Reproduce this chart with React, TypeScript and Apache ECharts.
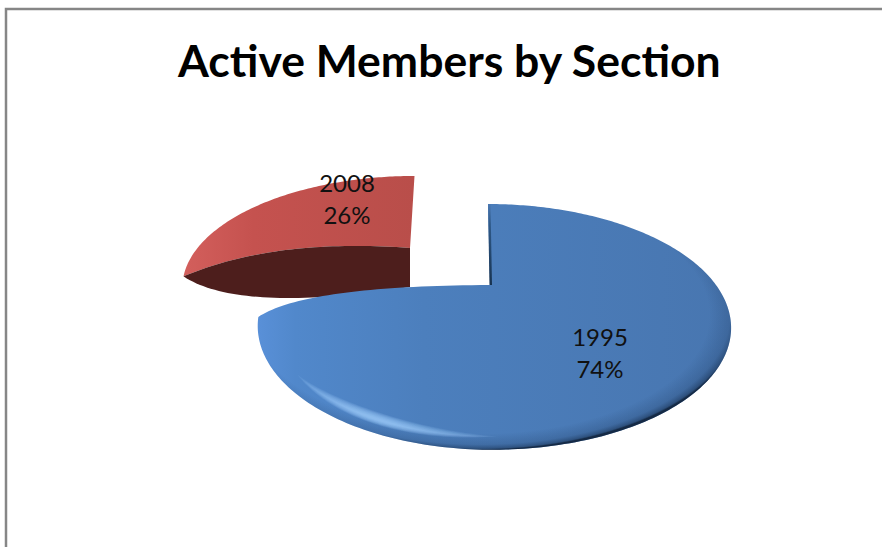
import React, { useEffect, useRef } from "react";
import * as echarts from "echarts";

const chartTitle = "Active Members by Section";
const sections = ["1995", "2008"];
const shares = [74, 26];

const totalShare = shares.reduce((a, b) => a + b, 0);
const labelFont = "Lato, Carlito, sans-serif";

type Point = [number, number];

// Per-slice projection of a tilted disc onto the page. Slices are pulled apart,
// so each one has its own apex and apparent size.
const sliceViews = [
  { ax: 490, ay: 285, fLeft: 219, fRight: 226, g: 108.6, lean: 2, labelDx: 110, labelDy: 67 },
  { ax: 410, ay: 248, fLeft: 212.5, fRight: 212.5, g: 96.6, lean: -4.5, labelDx: -63, labelDy: -50 },
];
const perspective = 0.341;
const wallHeight = 39;

// Angle as seen through the tilted camera; keeps 0 and 360 in place.
const viewAngle = (deg: number) => deg - 16.3 * Math.sin(((deg / 2) * Math.PI) / 180);

function project(view: (typeof sliceViews)[number], deg: number, r = 1): Point {
  const a = (deg * Math.PI) / 180;
  const X = r * Math.sin(a);
  const Y = r * Math.cos(a);
  const w = 1 + perspective * Y;
  const f = X < 0 ? view.fLeft : view.fRight;
  return [view.ax + (f * X) / w - view.lean * Y, view.ay - (view.g * Y) / w];
}

function arcPoints(view: (typeof sliceViews)[number], from: number, to: number, r = 1): Point[] {
  const pts: Point[] = [];
  const steps = Math.max(2, Math.ceil(Math.abs(to - from)));
  for (let i = 0; i <= steps; i++) pts.push(project(view, from + ((to - from) * i) / steps, r));
  return pts;
}

function quadPoints(p0: Point, c: Point, p1: Point, n = 40): Point[] {
  const pts: Point[] = [];
  for (let i = 0; i <= n; i++) {
    const t = i / n;
    const u = 1 - t;
    pts.push([
      u * u * p0[0] + 2 * u * t * c[0] + t * t * p1[0],
      u * u * p0[1] + 2 * u * t * c[1] + t * t * p1[1],
    ]);
  }
  return pts;
}

const linear = (x2: number, y2: number, stops: [number, string][]) =>
  new echarts.graphic.LinearGradient(0, 0, x2, y2, stops.map(([offset, color]) => ({ offset, color })));

const radial = (cx: number, cy: number, r: number, stops: [number, string][]) =>
  new echarts.graphic.RadialGradient(cx, cy, r, stops.map(([offset, color]) => ({ offset, color })));

function renderBlue(start: number, end: number, text: string) {
  const view = sliceViews[0];
  const apex: Point = [view.ax, view.ay];
  const rim = arcPoints(view, viewAngle(start), viewAngle(end));
  const tip = rim[rim.length - 1];
  // the closing radial edge sags in perspective on its way back to the apex
  const closing = quadPoints(tip, [tip[0] + 0.2 * (apex[0] - tip[0]), apex[1] + 1], apex);
  const outline = [...rim, ...closing];
  const corner = rim[0];
  const children: any[] = [
    {
      type: "polygon",
      z2: 10,
      shape: { points: outline },
      style: {
        fill: linear(1, 0, [
          [0, "#5990d8"],
          [0.08, "#5188cb"],
          [0.35, "#4c7fbd"],
          [1, "#4876b0"],
        ]),
      },
    },
    {
      // darkened bevel round the near rim
      type: "polygon",
      z2: 11,
      shape: { points: outline },
      style: {
        fill: radial(0.47, 0.45, 0.55, [
          [0, "rgba(20,45,80,0)"],
          [0.88, "rgba(20,45,80,0)"],
          [0.96, "rgba(20,45,80,0.2)"],
          [0.99, "rgba(18,40,70,0.5)"],
          [1, "rgba(12,28,50,0.85)"],
        ]),
      },
    },
    {
      // thin cut face along the first radial edge
      type: "polygon",
      z2: 12,
      shape: {
        points: [
          [corner[0], corner[1]],
          [corner[0] + 2.5, corner[1]],
          [apex[0] + 2, apex[1]],
          [apex[0] - 0.5, apex[1]],
        ],
      },
      style: {
        fill: linear(0, 1, [
          [0, "#4a78b2"],
          [0.25, "#2f5a8a"],
          [1, "#17324f"],
        ]),
      },
    },
  ];
  // soft glint just inside the near rim: stacked translucent bands with tapered ends
  const bands = 12;
  for (let i = 0; i < bands; i++) {
    const half = 24 - i * 1.6;
    const thick = 0.03 - i * 0.0022;
    const inner: Point[] = [];
    const outer: Point[] = [];
    const steps = 48;
    for (let s = 0; s <= steps; s++) {
      const t = s / steps;
      const deg = 203 - half + 2 * half * t;
      const taper = Math.sin(Math.PI * t);
      inner.push(project(view, deg, 0.945 - thick * taper));
      outer.unshift(project(view, deg, 0.945 + thick * 0.7 * taper));
    }
    children.push({
      type: "polygon",
      z2: 13,
      shape: { points: [...inner, ...outer] },
      style: { fill: "#a8d6ff", opacity: 0.11 },
    });
  }
  children.push(labelText(view, text));
  return { type: "group", children };
}

function renderRed(start: number, end: number, text: string) {
  const view = sliceViews[1];
  const apex: Point = [view.ax, view.ay];
  const rim = arcPoints(view, viewAngle(start), viewAngle(end));
  const left = rim[0];
  const span = apex[0] - left[0];
  // upper edge of the cut face bows upward between apex and rim
  const edge = quadPoints(left, [left[0] + 0.4 * span, apex[1] - 10], apex);
  const wallBottom: Point = [apex[0], apex[1] + wallHeight];
  const lower = quadPoints(left, [left[0] + 0.25 * span, left[1] + wallHeight * 0.95], wallBottom);
  return {
    type: "group",
    children: [
      {
        type: "polygon",
        z2: 1,
        shape: { points: [...rim, ...edge.slice().reverse()] },
        style: {
          fill: linear(1, 0, [
            [0, "#d35f5c"],
            [0.3, "#c5524f"],
            [1, "#b94e4a"],
          ]),
        },
      },
      {
        type: "polygon",
        z2: 2,
        shape: { points: [...edge, ...lower.slice().reverse()] },
        style: { fill: "#4d1e1c" },
      },
      labelText(view, text),
    ],
  };
}

function labelText(view: (typeof sliceViews)[number], text: string) {
  return {
    type: "text",
    z2: 20,
    style: {
      text,
      x: view.ax + view.labelDx,
      y: view.ay + view.labelDy,
      align: "center",
      verticalAlign: "middle",
      fontFamily: labelFont,
      fontSize: 24,
      lineHeight: 32,
      fill: "#111111",
    },
  };
}

const renderSlice = (params: any, api: any) => {
  const i = params.dataIndex;
  const before = shares.slice(0, i).reduce((a, b) => a + b, 0);
  const value = api.value(0);
  const start = (before / totalShare) * 360;
  const end = ((before + value) / totalShare) * 360;
  const text = `${sections[i]}\n${Math.round((value / totalShare) * 100)}%`;
  return i === 0 ? renderBlue(start, end, text) : renderRed(start, end, text);
};

export default function App() {
  const ref = useRef<HTMLDivElement>(null);

  useEffect(() => {
    const chart = echarts.init(ref.current!, undefined, { renderer: "svg" });
    chart.setOption({
      animation: false,
      backgroundColor: "#ffffff",
      title: {
        text: chartTitle,
        left: 178,
        top: 37,
        padding: 0,
        textStyle: { fontFamily: labelFont, fontWeight: "bold", fontSize: 44.5, color: "#000000" },
      },
      graphic: [
        {
          type: "rect",
          z: -1,
          shape: { x: 6, y: 9, width: 900, height: 560 },
          style: { fill: "none", stroke: "#868686", lineWidth: 2.5 },
        },
      ],
      series: [
        {
          type: "custom",
          coordinateSystem: "none",
          silent: true,
          renderItem: renderSlice,
          data: shares.map((value, i) => ({ name: sections[i], value: [value] })),
        },
      ],
    });
    return () => chart.dispose();
  }, []);

  return <div ref={ref} style={{ position: "fixed", left: 0, top: 0, width: 882, height: 547 }} />;
}
